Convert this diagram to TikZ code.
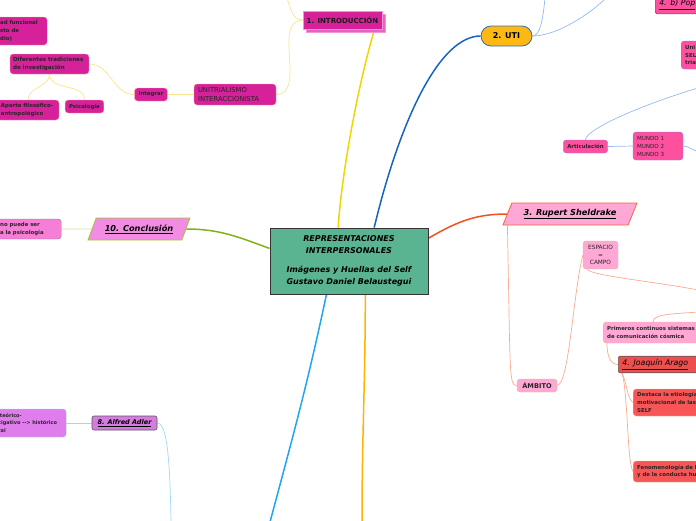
\documentclass[tikz,border=0pt]{standalone}
\usepackage{fontspec}
\setmainfont{DejaVu Sans}
\usetikzlibrary{shapes.geometric,shadows,backgrounds}

\definecolor{centreGreen}{RGB}{90,180,145}
\definecolor{magentaFill}{RGB}{214,33,155}
\definecolor{magentaShade}{RGB}{228,100,192}
\definecolor{magentaEdge}{RGB}{242,150,210}
\definecolor{leafEdge}{RGB}{242,178,130}
\definecolor{trunkYellow}{RGB}{240,214,0}
\definecolor{twigYellow}{RGB}{247,229,143}
\definecolor{utiFill}{RGB}{253,184,19}
\definecolor{utiEdge}{RGB}{50,110,180}
\definecolor{trunkBlue}{RGB}{21,101,192}
\definecolor{twigBlue}{RGB}{150,185,238}
\definecolor{popFill}{RGB}{255,80,160}
\definecolor{popEdge}{RGB}{110,140,220}
\definecolor{conclFill}{RGB}{242,140,226}
\definecolor{conclEdge}{RGB}{160,200,40}
\definecolor{trunkGreen}{RGB}{128,178,26}
\definecolor{twigGreen}{RGB}{205,228,160}
\definecolor{conclLeaf}{RGB}{247,126,214}
\definecolor{shelFill}{RGB}{255,168,213}
\definecolor{shelEdge}{RGB}{242,100,60}
\definecolor{trunkOrange}{RGB}{244,81,30}
\definecolor{twigSalmon}{RGB}{249,170,145}
\definecolor{joaqFill}{RGB}{238,78,78}
\definecolor{joaqLeaf}{RGB}{248,86,86}
\definecolor{adlerFill}{RGB}{214,123,224}
\definecolor{adlerLeaf}{RGB}{224,125,236}
\definecolor{adlerEdge}{RGB}{158,210,245}
\definecolor{trunkCyan}{RGB}{30,167,240}
\definecolor{twigCyan}{RGB}{160,216,245}
\definecolor{trunkAmber}{RGB}{255,179,0}

\begin{document}
\begin{tikzpicture}[x=1pt, y=1pt,
    trunk/.style={line width=1.5pt},
    twig/.style={line width=0.7pt},
    leaf/.style={draw, rounded corners=3pt, inner xsep=4pt, inner ysep=2pt, align=left, text=black!85, font=\bfseries\fontsize{5.4}{7.7}\selectfont},
    magentaleaf/.style={leaf, fill=magentaFill, draw=leafEdge},
    popleaf/.style={leaf, fill=popFill, draw=popEdge},
    shelleaf/.style={leaf, fill=shelFill, draw=leafEdge},
    joaqleaf/.style={leaf, fill=joaqLeaf, draw=leafEdge},
    slanted/.style={trapezium, trapezium left angle=62, trapezium right angle=118, trapezium stretches body, minimum height=22pt, line width=0.8pt, font=\bfseries\itshape\fontsize{8.2}{9}\selectfont},
    subtopic/.style={draw=black!65, rounded corners=2pt, line width=0.6pt},
  ]
    \useasboundingbox (0,0) rectangle (696,-520);
    \clip (0,0) rectangle (696,-520);
    % central topic
    \node[draw=black!80, fill=centreGreen, line width=0.8pt, minimum width=158pt, minimum height=66pt, align=center, font=\bfseries\itshape\fontsize{8}{12}\selectfont] (self) at (349,-261)
        {REPRESENTACIONES\\INTERPERSONALES\\[7pt]Imágenes y Huellas del Self\\Gustavo Daniel Belaustegui};
    % 1. introduccion
    \node[draw=magentaEdge, fill=magentaFill, minimum width=79pt, minimum height=18pt, text=black!90, font=\bfseries\fontsize{7}{8}\selectfont,
        copy shadow={shadow xshift=3pt, shadow yshift=-3pt, fill=magentaShade, draw=magentaEdge}] (intro) at (342.5,-20) {1. INTRODUCCIÓN};
    \node[magentaleaf, font=\fontsize{6.8}{9}\selectfont, text width=74pt, minimum height=21pt] (unitr) at (235,-94.5) {UNITRIALISMO\\INTERACCIONISTA};
    \node[magentaleaf, minimum width=32pt, minimum height=13pt] (integrar) at (151,-94.5) {Integrar};
    \node[magentaleaf, font=\bfseries\fontsize{5.6}{7.5}\selectfont, inner xsep=3pt, text width=73pt, minimum height=20pt] (tradic) at (49.5,-64) {Diferentes tradiciones\\de investigación};
    \node[magentaleaf, text width=54pt, minimum height=20pt] (aporte) at (28,-110) {Aporte filosófico-\\antropológico};
    \node[magentaleaf, minimum width=37pt, minimum height=13pt] (psico) at (84.5,-106.5) {Psicología};
    \node[magentaleaf, anchor=west, inner xsep=6pt, text width=41pt, minimum height=28pt] (funcional) at (-6,-31) {ad funcional\\sto de\\dio)};
    % 2. UTI
    \node[draw=utiEdge, fill=utiFill, line width=0.8pt, rounded corners=10pt, minimum width=51pt, minimum height=20pt, font=\bfseries\fontsize{8}{9}\selectfont] (uti) at (506.5,-36) {2. UTI};
    \node[subtopic, fill=popFill, anchor=south west, minimum height=18pt, text width=44pt, inner xsep=4pt, align=left, font=\itshape\fontsize{7.7}{9}\selectfont] (popper) at (655,-14) {\underline{4. b) Pop}};
    \node[popleaf, anchor=west, text width=30pt, minimum height=28pt] (uniself) at (681,-55) {Uni\\SEL\\trial};
    \node[popleaf, minimum width=43pt, minimum height=13pt] (artic) at (585.5,-146.5) {Articulación};
    \node[popleaf, font=\fontsize{5.6}{8}\selectfont, text width=42pt, minimum height=28pt] (mundos) at (658,-146) {MUNDO 1\\MUNDO 2\\MUNDO 3};
    % 10. conclusion
    \node[slanted, draw=conclEdge, fill=conclFill, minimum width=102pt] (concl) at (139,-229) {\underline{10. Conclusión}};
    \node[leaf, fill=conclLeaf, draw=black!50, anchor=west, inner xsep=6pt, text width=55pt, minimum height=20pt] (conclLeaf) at (-6,-229) {no puede ser\\a la psicología};
    % 3. Sheldrake
    \node[slanted, draw=shelEdge, fill=shelFill, minimum width=134pt] (shel) at (570,-214) {\underline{3. Rupert Sheldrake}};
    \node[shelleaf, align=center, font=\fontsize{5.8}{7.5}\selectfont, minimum width=35pt, minimum height=28pt] (espacio) at (600.5,-255) {ESPACIO\\=\\CAMPO};
    \node[shelleaf, font=\bfseries\fontsize{6.6}{8}\selectfont, minimum width=40pt, minimum height=13pt] (ambito) at (537,-385.5) {ÁMBITO};
    \node[shelleaf, anchor=west, text width=92pt, minimum height=21pt] (primeros) at (603,-332.5) {Primeros continuos sistemas\\de comunicación cósmica};
    % 4. Joaquin
    \node[subtopic, fill=joaqFill, anchor=west, text width=80pt, inner xsep=4pt, minimum height=15pt, align=left, font=\itshape\fontsize{7.8}{9}\selectfont] (joaquin) at (618,-364.5) {\underline{4. Joaquín Arago}};
    \node[joaqleaf, anchor=west, text width=70pt, minimum height=27pt] (destaca) at (633,-402.5) {Destaca la etiología\\motivacional de las\\SELF};
    \node[joaqleaf, anchor=west, text width=70pt, minimum height=21pt] (fenomen) at (633,-471.5) {Fenomenología de l\\y de la conducta hu};
    % 8. Adler
    \node[subtopic, fill=adlerFill, minimum width=65pt, minimum height=14pt, font=\bfseries\itshape\fontsize{6.5}{7}\selectfont] (adler) at (124.5,-423) {\underline{8. Alfred Adler}};
    \node[leaf, fill=adlerLeaf, draw=adlerEdge, font=\bfseries\fontsize{5}{7.5}\selectfont, anchor=west, inner xsep=6pt, text width=62pt, minimum height=28pt] (adlerLeaf) at (-8,-423) {\ teórico-\\cigativo -{}-{}> histórico\\ral};
    % free ends
    \coordinate (introUp) at (287,2);
    \coordinate (utiUp) at (545,2);
    \coordinate (utiPop) at (606,2);
    \coordinate (popDown) at (698,-88);
    \coordinate (mundoOut) at (698,-151);
    \coordinate (espOut) at (698,-290);
    \coordinate (priOut) at (698,-312);
    \coordinate (adlerDown) at (171,-522);
    \coordinate (cyanEnd) at (270,-522);
    \coordinate (amberEnd) at (362,-522);
    \begin{pgfonlayer}{background}
        % main branches
        \draw[trunk, trunkYellow] (self.108) .. controls +(4,60) and +(-15,-50) .. (intro.-16);
        \draw[trunk, trunkBlue] (self.53) .. controls +(26,108) and +(-41,0) .. (uti.west);
        \draw[trunk, trunkOrange] (self.16) to[out=30, in=180] (shel.west);
        \draw[trunk, trunkGreen] (self.171) to[out=160, in=0] (concl.east);
        \draw[trunk, trunkCyan] (self.236) to[out=-102, in=75] (cyanEnd);
        \draw[trunk, trunkAmber] (self.296) to[out=-90, in=90] (amberEnd);
        % introduccion
        \draw[twig, twigYellow] (tradic.east) to[out=0, in=180] (integrar.west);
        \draw[twig, twigYellow] (integrar.east) -- (unitr.west);
        \draw[twig, twigYellow] (unitr.east) to[out=0, in=180] (intro.west);
        \draw[twig, twigYellow] (intro.west) to[out=180, in=-70] (introUp);
        \draw[twig, twigYellow] (tradic.south) to[out=-90, in=90] (aporte.north);
        \draw[twig, twigYellow] (tradic.south) to[out=-90, in=90] (psico.north);
        % UTI
        \draw[twig, twigBlue] (uti.east) .. controls +(8,0) and +(-2,-20) .. (utiUp);
        \draw[twig, twigBlue] (uti.east) .. controls +(25,0) and +(-15,-15) .. (utiPop);
        \draw[twig, twigBlue] (artic.north) .. controls +(0,10) and +(-60,-18) .. (popDown);
        \draw[twig, twigBlue] (artic.east) -- (mundos.west);
        \draw[twig, twigBlue] (mundos.east) to[out=0, in=180] (mundoOut);
        % conclusion
        \draw[twig, twigGreen] (concl.west) -- (conclLeaf.east);
        % Sheldrake
        \draw[twig, twigSalmon] ([xshift=5pt]shel.bottom left corner) .. controls +(3,-150) and +(-8,0) .. (ambito.west);
        \draw[twig, twigSalmon] (ambito.east) .. controls +(12,2) and +(-10,-41) .. (espacio.west);
        \draw[twig, twigSalmon] ([xshift=-13pt]espacio.south) .. controls +(0,-6) and +(-40,8) .. (espOut);
        \draw[twig, twigSalmon] (primeros.north) .. controls +(0,8) and +(-25,-2) .. (priOut);
        \draw[twig, twigSalmon] ([xshift=4pt]primeros.south west) .. controls +(0,-12) and +(-8,0) .. (joaquin.west);
        \draw[twig, twigSalmon] ([xshift=4pt]joaquin.south west) .. controls +(5,-10) and +(-6,4) .. (destaca.west);
        \draw[twig, twigSalmon] ([xshift=4pt]joaquin.south west) .. controls +(6,-20) and +(-6,10) .. (fenomen.west);
        % Adler
        \draw[twig, twigCyan] (adler.west) -- (adlerLeaf.east);
        \draw[twig, twigCyan] (adler.east) .. controls +(10,0) and +(-1,60) .. (adlerDown);
    \end{pgfonlayer}
\end{tikzpicture}
\end{document}
